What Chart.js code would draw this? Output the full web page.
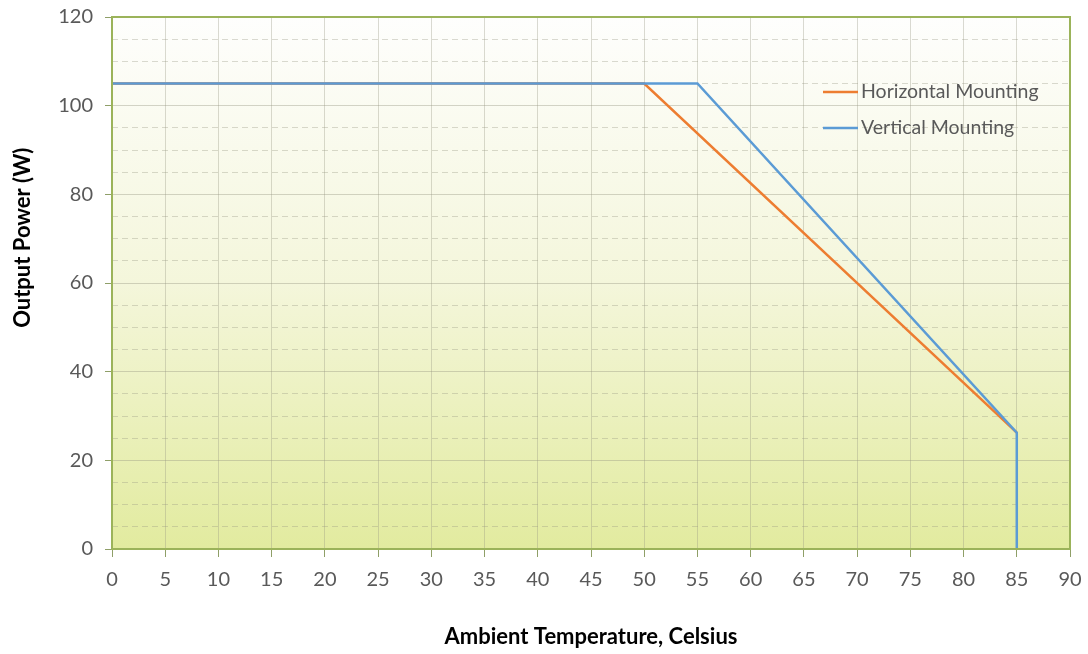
<!DOCTYPE html>
<html>
<head>
<meta charset="utf-8">
<script src="https://cdn.jsdelivr.net/npm/chart.js@4.4.0/dist/chart.umd.min.js"></script>
<style>
  html, body { margin: 0; padding: 0; background: #ffffff; }
  #wrap { width: 1088px; height: 654px; }
</style>
</head>
<body>
<div id="wrap"><canvas id="c" width="1088" height="654"></canvas></div>
<script>
// ---- data ----
const seriesNames = ['Horizontal Mounting', 'Vertical Mounting'];
const horizontalTemps = [0, 50, 85];
const horizontalPower = [105, 105, 26.25];
const verticalTemps = [0, 55, 85, 85];
const verticalPower = [105, 105, 26.25, 0];
const xTickStep = 5;
const yTickStep = 5;
const yLabelStep = 20;
const xTitle = 'Ambient Temperature, Celsius';
const yTitle = 'Output Power (W)';

const ORANGE = '#ed7d31';
const BLUE = '#5b9bd5';
const FONT = 'Lato, "Open Sans", sans-serif';

function toPoints(xs, ys) { return xs.map((x, i) => ({ x: x, y: ys[i] })); }

const bgPlugin = {
  id: 'bg',
  beforeDraw(chart) {
    const { ctx, chartArea: a } = chart;
    const g = ctx.createLinearGradient(0, a.top, 0, a.bottom);
    g.addColorStop(0, '#fefefd');
    g.addColorStop(0.5, '#f4f6db');
    g.addColorStop(1, '#e2eb9f');
    ctx.save();
    ctx.fillStyle = g;
    ctx.fillRect(a.left, a.top, a.right - a.left, a.bottom - a.top);
    ctx.restore();
  },
  afterDatasetsDraw(chart) {
    const { ctx, chartArea: a } = chart;
    ctx.save();
    // frame
    ctx.strokeStyle = '#9bb35a';
    ctx.lineWidth = 2;
    ctx.strokeRect(a.left, a.top, a.right - a.left, a.bottom - a.top);
    // legend
    const items = [
      { label: seriesNames[0], color: ORANGE, dy: 75 },
      { label: seriesNames[1], color: BLUE, dy: 111 }
    ];
    ctx.font = '19.5px ' + FONT;
    ctx.textBaseline = 'middle';
    ctx.textAlign = 'left';
    items.forEach(it => {
      const y = a.top + it.dy;
      const x0 = a.right - 247;
      ctx.strokeStyle = it.color;
      ctx.lineWidth = 2.5;
      ctx.beginPath();
      ctx.moveTo(x0, y);
      ctx.lineTo(x0 + 35, y);
      ctx.stroke();
      ctx.fillStyle = '#595959';
      ctx.fillText(it.label, x0 + 38, y);
    });
    ctx.restore();
  },
  afterDraw(chart) {
    // y axis title (placed as in the reference, above plot centre)
    const { ctx, chartArea: a } = chart;
    ctx.save();
    ctx.translate(23, a.top + (a.bottom - a.top) * 0.415);
    ctx.rotate(-Math.PI / 2);
    ctx.font = 'bold 22px ' + FONT;
    ctx.fillStyle = '#000000';
    ctx.textAlign = 'center';
    ctx.textBaseline = 'middle';
    ctx.fillText(yTitle, 0, 0);
    ctx.restore();
  }
};

new Chart(document.getElementById('c'), {
  type: 'line',
  data: {
    datasets: [
      {
        label: seriesNames[0],
        data: toPoints(horizontalTemps, horizontalPower),
        borderColor: ORANGE,
        backgroundColor: ORANGE,
        borderWidth: 2.5,
        pointRadius: 0,
        tension: 0,
        order: 1
      },
      {
        label: seriesNames[1],
        data: toPoints(verticalTemps, verticalPower),
        borderColor: BLUE,
        backgroundColor: BLUE,
        borderWidth: 2.5,
        pointRadius: 0,
        tension: 0,
        order: 0
      }
    ]
  },
  options: {
    responsive: false,
    animation: false,
    events: [],
    layout: { padding: { top: 17, right: 18, left: 0, bottom: 0 } },
    plugins: {
      legend: { display: false },
      tooltip: { enabled: false }
    },
    scales: {
      x: {
        type: 'linear',
        min: 0,
        max: 90,
        afterFit(scale) {
          scale.height = 105;
          scale.paddingLeft = 0;
          scale.paddingRight = 0;
        },
        ticks: {
          stepSize: xTickStep,
          color: '#595959',
          font: { family: FONT, size: 20 },
          padding: 11,
          maxRotation: 0,
          autoSkip: false
        },
        grid: {
          color: 'rgba(150,150,130,0.35)',
          lineWidth: 1,
          tickLength: 8,
          tickColor: '#8f9f68'
        },
        border: { display: false },
        title: {
          display: true,
          text: xTitle,
          color: '#000000',
          font: { family: FONT, size: 22, weight: 'bold' },
          padding: { top: 0, bottom: 4 }
        }
      },
      y: {
        type: 'linear',
        min: 0,
        max: 120,
        afterFit(scale) {
          scale.width = 112;
          scale.paddingTop = 0;
          scale.paddingBottom = 0;
        },
        ticks: {
          stepSize: yTickStep,
          color: '#595959',
          font: { family: FONT, size: 20 },
          padding: 12,
          autoSkip: false,
          callback: (v) => (v % yLabelStep === 0 ? String(v) : '')
        },
        grid: {
          color: (ctx) => (ctx.tick && ctx.tick.value % yLabelStep === 0 ? 'rgba(150,150,130,0.4)' : 'rgba(150,150,130,0.35)'),
          lineWidth: 1,
          tickLength: 7,
          tickColor: (ctx) => (ctx.tick && ctx.tick.value % yLabelStep === 0 ? '#8f9f68' : 'rgba(0,0,0,0)')
        },
        border: {
          display: false,
          dash: (ctx) => (ctx.tick && ctx.tick.value % yLabelStep !== 0 ? [6, 4] : [])
        },
        title: { display: false }
      }
    }
  },
  plugins: [bgPlugin]
});
</script>
</body>
</html>
